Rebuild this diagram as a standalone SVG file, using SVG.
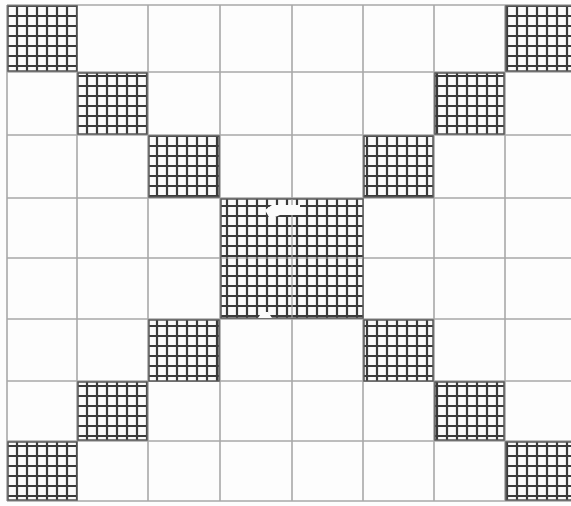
<svg xmlns="http://www.w3.org/2000/svg" width="571" height="506" viewBox="0 0 571 506">
<style>
.grid{stroke:#a8a8a8;stroke-width:1.6;fill:none}
.h{fill:url(#hatch);stroke:#555;stroke-width:1.5}
</style>
<defs>
<pattern id="hatch" patternUnits="userSpaceOnUse" width="10" height="10" x="2" y="1">
<rect width="10" height="10" fill="#fbfbfb"/>
<path d="M5 0V10M0 5H10" stroke="#3a3a3a" stroke-width="2.2"/>
</pattern>
</defs>
<rect width="571" height="506" fill="#fdfdfd"/>
<g id="grid" class="grid">
<path d="M7 5V501M77 5V501M148 5V501M220 5V501M292 5V501M363 5V501M434 5V501M505 5V501"/>
<path d="M7 5H571M7 72H571M7 135H571M7 198H571M7 258H571M7 319H571M7 381H571M7 441H571M7 501H571"/>
</g>
<g id="cells">
<rect id="c00" class="h" x="8" y="6" width="69" height="65"/>
<rect id="c07" class="h" x="506" y="6" width="66" height="65"/>
<rect id="c11" class="h" x="78" y="73" width="69" height="61"/>
<rect id="c16" class="h" x="435" y="73" width="69" height="61"/>
<rect id="c22" class="h" x="149" y="136" width="70" height="61"/>
<rect id="c25" class="h" x="364" y="136" width="69" height="61"/>
<rect id="center" class="h" x="221" y="199" width="142" height="119"/>
<rect id="c52" class="h" x="149" y="320" width="70" height="61"/>
<rect id="c55" class="h" x="364" y="320" width="69" height="61"/>
<rect id="c61" class="h" x="78" y="382" width="69" height="58"/>
<rect id="c66" class="h" x="435" y="382" width="69" height="58"/>
<rect id="c70" class="h" x="8" y="442" width="69" height="58"/>
<rect id="c77" class="h" x="506" y="442" width="66" height="58"/>
<path d="M292 199V318M221 258H363" stroke="#999" stroke-width="1.2"/>
<path d="M265 210L272 205H300V215H280L270 219Z" fill="#fbfbfb"/>
<path d="M258 318L262 312H268L272 318Z" fill="#fbfbfb"/>
</g>
</svg>
